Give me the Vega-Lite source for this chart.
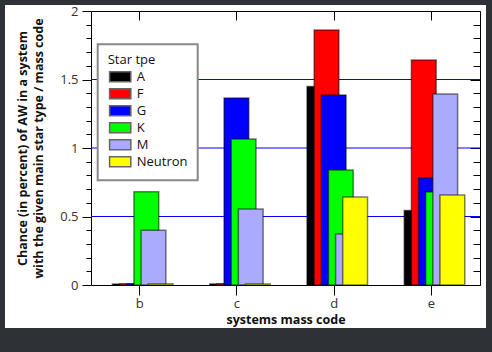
{
  "$schema": "https://vega.github.io/schema/vega-lite/v6.json",
  "width": 481,
  "height": 323,
  "autosize": {"type": "none"},
  "padding": {"left": 5, "top": 5, "right": 6, "bottom": 24},
  "background": "#2e3236",
  "config": {
    "font": "Open Sans",
    "view": {"fill": "white", "stroke": null},
    "axis": {"labelColor": "#333", "titleColor": "#111", "domainColor": "black", "tickColor": "black", "labelFont": "Open Sans", "titleFont": "Open Sans"}
  },
  "resolve": {"axis": {"x": "independent", "y": "independent"}},
  "layer": [
    {
      "data": {"values": [{"grid": 0.5}, {"grid": 1}, {"grid": 1.5}]},
      "mark": {"type": "rule", "color": "#0000ff", "strokeWidth": 1},
      "encoding": {
        "x": {"datum": "b", "type": "nominal", "bandPosition": 0, "axis": null},
        "x2": {"datum": "e", "bandPosition": 1},
        "y": {"field": "grid", "type": "quantitative", "axis": null}
      }
    },
    {
      "data": {
        "values": [
          {"code": "b", "star": "A", "chance": 0.008},
          {"code": "b", "star": "F", "chance": 0.008},
          {"code": "b", "star": "G", "chance": 0.008},
          {"code": "b", "star": "K", "chance": 0.68},
          {"code": "b", "star": "M", "chance": 0.40},
          {"code": "b", "star": "Neutron", "chance": 0.008},
          {"code": "c", "star": "A", "chance": 0.008},
          {"code": "c", "star": "F", "chance": 0.008},
          {"code": "c", "star": "G", "chance": 1.365},
          {"code": "c", "star": "K", "chance": 1.066},
          {"code": "c", "star": "M", "chance": 0.555},
          {"code": "c", "star": "Neutron", "chance": 0.008},
          {"code": "d", "star": "A", "chance": 1.448},
          {"code": "d", "star": "F", "chance": 1.861},
          {"code": "d", "star": "G", "chance": 1.387},
          {"code": "d", "star": "K", "chance": 0.839},
          {"code": "d", "star": "M", "chance": 0.372},
          {"code": "d", "star": "Neutron", "chance": 0.642},
          {"code": "e", "star": "A", "chance": 0.543},
          {"code": "e", "star": "F", "chance": 1.642},
          {"code": "e", "star": "G", "chance": 0.781},
          {"code": "e", "star": "K", "chance": 0.679},
          {"code": "e", "star": "M", "chance": 1.394},
          {"code": "e", "star": "Neutron", "chance": 0.657}
        ]
      },
      "layer": [
        {
          "mark": {"type": "bar", "width": 24.8, "stroke": "black", "strokeOpacity": 0.5, "strokeWidth": 1.5},
          "encoding": {
            "x": {
              "field": "code", "type": "nominal",
              "scale": {"domain": ["b", "c", "d", "e"], "range": [86, 475], "paddingInner": 0, "paddingOuter": 0},
              "axis": {
                "orient": "bottom", "offset": -43, "tickSize": 10, "labelAngle": 0, "labelFontSize": 13, "labelPadding": 2,
                "title": "systems mass code", "titleFontSize": 12.5, "titleFontWeight": "bold", "titlePadding": 3, "grid": false
              }
            },
            "xOffset": {
              "field": "star", "type": "nominal",
              "scale": {"domain": ["A", "F", "G", "K", "M", "Neutron"], "range": [30.3, 73.2], "paddingInner": 0, "paddingOuter": 0}
            },
            "y": {
              "field": "chance", "type": "quantitative",
              "scale": {"domain": [0, 2], "range": [280, 6], "nice": false, "zero": true},
              "axis": {
                "orient": "left", "offset": -86,
                "values": [0, 0.1, 0.2, 0.3, 0.4, 0.5, 0.6, 0.7, 0.8, 0.9, 1, 1.1, 1.2, 1.3, 1.4, 1.5, 1.6, 1.7, 1.8, 1.9, 2],
                "tickSize": 9,
                "tickDash": {"condition": {"test": "abs(datum.value*2 - round(datum.value*2)) < 0.001", "value": [9, 0]}, "value": [5, 30]},
                "labelExpr": "abs(datum.value*2 - round(datum.value*2)) < 0.001 ? format(datum.value, '~g') : ''",
                "labelFontSize": 13, "labelPadding": 4,
                "grid": false,
                "title": ["Chance (in percent) of AW in a system", "with the given main star type / mass code"],
                "titleFontSize": 12.5, "titleFontWeight": "bold", "titlePadding": 14, "titleLineHeight": 16
              }
            },
            "color": {
              "field": "star", "type": "nominal",
              "scale": {"domain": ["A", "F", "G", "K", "M", "Neutron"], "range": ["#000000", "#ff0000", "#0000ff", "#00ff00", "#aaaaff", "#ffff00"]},
              "legend": {
                "orient": "none", "legendX": 92.7, "legendY": 39.3, "title": "Star tpe",
                "fillColor": "white", "strokeColor": "#888888", "padding": 10,
                "titleFontWeight": "normal", "titleFontSize": 13, "titleColor": "#111", "titlePadding": 3,
                "labelFontSize": 13, "labelColor": "#111", "labelOffset": 10,
                "symbolType": "M-15,-7H15V7H-15Z", "symbolSize": 2, "symbolOffset": 6,
                "symbolStrokeColor": "#666666", "symbolStrokeWidth": 1.5, "symbolOpacity": 1, "rowPadding": 0,
                "encode": {"legend": {"update": {"strokeWidth": {"value": 2}}}}
              }
            }
          }
        },
        {
          "mark": {"type": "point", "opacity": 0},
          "encoding": {
            "x": {
              "field": "code", "type": "nominal",
              "axis": {"orient": "top", "offset": -6, "tickSize": -9, "labels": false, "title": null, "grid": false}
            },
            "y": {
              "field": "chance", "type": "quantitative",
              "axis": {
                "orient": "right", "offset": -6, "labels": false, "title": null, "grid": false,
                "values": [0, 0.1, 0.2, 0.3, 0.4, 0.5, 0.6, 0.7, 0.8, 0.9, 1, 1.1, 1.2, 1.3, 1.4, 1.5, 1.6, 1.7, 1.8, 1.9, 2],
                "tickSize": -10,
                "tickDash": {"condition": {"test": "abs(datum.value*2 - round(datum.value*2)) < 0.001", "value": [10, 0]}, "value": [7, 30]}
              }
            }
          }
        }
      ]
    }
  ]
}
